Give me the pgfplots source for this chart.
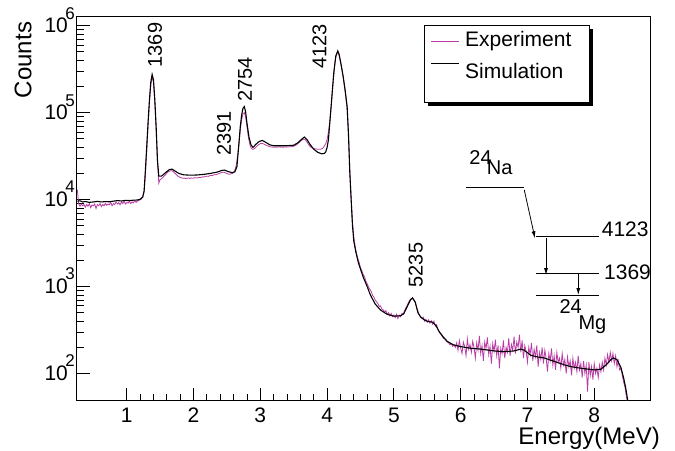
\documentclass[border=0pt]{standalone}
\usepackage{pgfplots}
\pgfplotsset{compat=1.18}
\usetikzlibrary{arrows.meta}
\usepackage{fontspec}
\setmainfont{Liberation Sans}

\definecolor{expcol}{RGB}{185,60,165}
\newcommand{\fs}[1]{\fontsize{#1bp}{#1bp}\selectfont}
\newcommand{\tenpow}[1]{10\kern-0.12em\smash{\raisebox{0.66em}{\fs{17}#1}}}

% measured spectrum, 20 keV bins
\pgfplotstableread{
E C
0.26 13000
0.28 9000
0.30 8400
0.32 8900
0.34 8500
0.36 8800
0.38 8200
0.40 8800
0.42 8400
0.44 9000
0.46 8100
0.48 8700
0.50 8500
0.52 8900
0.54 7900
0.56 8800
0.58 8500
0.60 9000
0.62 8300
0.64 8800
0.66 8500
0.68 9100
0.70 8600
0.72 8900
0.74 8700
0.76 9300
0.78 8500
0.80 9000
0.82 8800
0.84 9400
0.86 8900
0.88 9200
0.90 8700
0.92 9400
0.94 9000
0.96 9600
0.98 8900
1.00 9300
1.02 9100
1.04 9600
1.06 9000
1.08 9400
1.10 9200
1.12 9700
1.14 9300
1.16 9600
1.18 9800
1.20 9900
1.22 10200
1.24 11000
1.26 12300
1.28 20000
1.30 38000
1.32 74000
1.34 132000
1.36 210000
1.38 257000
1.40 226000
1.42 135000
1.44 66000
1.46 27000
1.48 15500
1.50 17000
1.52 17400
1.54 17900
1.56 18700
1.58 19300
1.60 20200
1.62 20900
1.64 21300
1.66 21500
1.68 21400
1.70 20900
1.72 20200
1.74 19500
1.76 18800
1.78 18400
1.80 18000
1.82 17800
1.84 17600
1.86 17700
1.88 17500
1.90 17600
1.92 17700
1.94 17500
1.96 17800
1.98 17600
2.00 17700
2.02 17900
2.04 17700
2.06 17800
2.08 18000
2.10 17900
2.12 18100
2.14 18300
2.16 18200
2.18 18500
2.20 18600
2.22 18500
2.24 18800
2.26 19000
2.28 18900
2.30 19200
2.32 19400
2.34 19300
2.36 19700
2.38 19900
2.40 20200
2.42 20500
2.44 20700
2.46 20600
2.48 20300
2.50 20000
2.52 19700
2.54 19600
2.56 19800
2.58 20000
2.60 20600
2.62 21900
2.64 25000
2.66 32000
2.68 44000
2.70 63000
2.72 83000
2.74 97000
2.76 100000
2.78 90000
2.80 69000
2.82 53000
2.84 44000
2.86 39500
2.88 38000
2.90 38000
2.92 39200
2.94 40500
2.96 42000
2.98 43200
3.00 44000
3.02 44300
3.04 44000
3.06 43300
3.08 42500
3.10 41800
3.12 41200
3.14 40700
3.16 40400
3.18 40200
3.20 40100
3.22 40300
3.24 40000
3.26 40200
3.28 40400
3.30 40100
3.32 40300
3.34 40000
3.36 40300
3.38 40200
3.40 40400
3.42 40300
3.44 40600
3.46 40500
3.48 40800
3.50 41200
3.52 41800
3.54 42700
3.56 43800
3.58 45200
3.60 46800
3.62 48300
3.64 49300
3.66 49500
3.68 48200
3.70 45800
3.72 43300
3.74 41300
3.76 40000
3.78 39200
3.80 38700
3.82 38400
3.84 38200
3.86 38000
3.88 37900
3.90 38000
3.92 38400
3.94 39400
3.96 41500
3.98 44000
4.00 49000
4.02 60000
4.04 79000
4.06 115000
4.08 178000
4.10 275000
4.12 390000
4.14 470000
4.16 500000
4.18 455000
4.20 390000
4.22 320000
4.24 255000
4.26 200000
4.28 150000
4.30 110000
4.32 58000
4.34 22000
4.36 10500
4.38 5600
4.40 3700
4.42 2900
4.44 2400
4.46 2100
4.48 1900
4.50 1650
4.52 1520
4.54 1380
4.56 1300
4.58 1150
4.60 1080
4.62 990
4.64 930
4.66 880
4.68 790
4.70 760
4.72 700
4.74 670
4.76 640
4.78 590
4.80 600
4.82 550
4.84 540
4.86 510
4.88 530
4.90 480
4.92 500
4.94 460
4.96 490
4.98 450
5.00 470
5.02 440
5.04 480
5.06 430
5.08 470
5.10 450
5.12 490
5.14 480
5.16 530
5.18 570
5.20 610
5.22 660
5.24 700
5.26 720
5.28 730
5.30 700
5.32 660
5.34 580
5.36 520
5.38 470
5.40 450
5.42 430
5.44 445
5.46 400
5.48 420
5.50 390
5.52 415
5.54 380
5.56 405
5.58 370
5.60 400
5.62 350
5.64 365
5.66 320
5.68 300
5.70 285
5.72 270
5.74 255
5.76 250
5.78 240
5.80 230
5.82 225
5.84 215
5.86 220
5.88 205
5.90 215
5.92 200
5.94 225
5.96 185
5.98 240
6.00 195
6.02 170
6.04 230
6.06 205
6.08 160
6.10 250
6.12 190
6.14 215
6.16 175
6.18 235
6.20 200
6.22 150
6.24 225
6.26 185
6.28 270
6.30 170
6.32 210
6.34 140
6.36 230
6.38 195
6.40 260
6.42 165
6.44 205
6.46 130
6.48 220
6.50 180
6.52 245
6.54 160
6.56 210
6.58 115
6.60 195
6.62 170
6.64 240
6.66 150
6.68 200
6.70 175
6.72 255
6.74 160
6.76 215
6.78 185
6.80 265
6.82 170
6.84 230
6.86 200
6.88 280
6.90 175
6.92 240
6.94 150
6.96 210
6.98 180
7.00 135
7.02 200
7.04 165
7.06 225
7.08 140
7.10 190
7.12 155
7.14 210
7.16 120
7.18 175
7.20 145
7.22 200
7.24 130
7.26 185
7.28 150
7.30 105
7.32 170
7.34 140
7.36 195
7.38 125
7.40 160
7.42 110
7.44 175
7.46 135
7.48 150
7.50 115
7.52 170
7.54 125
7.56 145
7.58 100
7.60 155
7.62 120
7.64 140
7.66 95
7.68 150
7.70 115
7.72 135
7.74 105
7.76 160
7.78 110
7.80 130
7.82 90
7.84 140
7.86 100
7.88 125
7.90 62
7.92 135
7.94 95
7.96 120
7.98 85
8.00 130
8.02 100
8.04 115
8.06 90
8.08 125
8.10 105
8.12 135
8.14 110
8.16 150
8.18 125
8.20 165
8.22 135
8.24 175
8.26 140
8.28 170
8.30 130
8.32 160
8.34 120
8.36 140
8.38 110
8.40 115
8.42 95
8.44 80
8.46 70
8.48 55
8.50 46
8.52 40
8.54 30
}\expdata

% simulated spectrum
\pgfplotstableread{
E C
0.26 9600
0.30 9700
0.34 9400
0.38 9500
0.44 9300
0.50 9400
0.56 9550
0.62 9400
0.68 9500
0.74 9450
0.80 9600
0.86 9750
0.92 9650
0.98 9800
1.04 9750
1.10 9850
1.16 9900
1.20 10100
1.24 10700
1.26 12600
1.28 22400
1.30 41700
1.32 79400
1.34 141000
1.36 224000
1.38 275000
1.40 240000
1.42 141000
1.44 69200
1.46 28200
1.48 18600
1.52 18600
1.58 20400
1.64 22200
1.68 22400
1.72 21400
1.78 20000
1.85 19300
1.95 19100
2.05 19200
2.15 19500
2.25 20000
2.35 20700
2.42 21600
2.46 21900
2.52 21000
2.58 20400
2.62 20900
2.65 24000
2.68 44700
2.70 69200
2.72 93300
2.74 112000
2.76 117500
2.78 102000
2.80 75900
2.83 52500
2.86 42700
2.89 39800
2.93 43000
2.98 46500
3.03 47900
3.08 45700
3.14 42700
3.20 41700
3.30 41700
3.40 41700
3.50 42200
3.56 45000
3.62 49500
3.66 52500
3.70 49000
3.74 43600
3.80 38000
3.86 35000
3.92 33600
3.96 34000
3.98 35500
4.00 39800
4.02 49000
4.04 75900
4.06 117500
4.08 186000
4.10 288000
4.13 447000
4.16 513000
4.18 468000
4.21 355000
4.24 263000
4.27 182000
4.30 117500
4.32 56200
4.34 20400
4.36 10000
4.38 5010
4.40 3310
4.43 2510
4.47 1860
4.54 1290
4.60 1000
4.65 794
4.72 631
4.80 537
4.90 479
5.00 457
5.10 462
5.15 490
5.20 589
5.25 708
5.28 741
5.32 661
5.36 501
5.40 447
5.45 417
5.50 398
5.58 389
5.63 355
5.68 302
5.74 263
5.80 234
5.89 214
6.00 204
6.15 195
6.30 191
6.50 182
6.64 178
6.80 182
6.90 191
6.95 186
7.05 162
7.15 155
7.25 151
7.40 138
7.55 126
7.65 120
7.80 115
8.00 110
8.10 112
8.18 126
8.25 145
8.29 151
8.34 145
8.40 117
8.44 89
8.47 69
8.50 50
8.52 42
}\simdata

\begin{document}
\begin{tikzpicture}
\useasboundingbox (-77bp,-50bp) rectangle (598bp,401bp);
\begin{axis}[
  at={(0,0)}, anchor=south west,
  scale only axis, width=573bp, height=384bp,
  xmin=0.255, xmax=8.835, ymin=48.3, ymax=1.26e6,
  ymode=log,
  clip mode=individual,
  axis line style={line width=1bp},
  xtick={1,2,3,4,5,6,7,8},
  xticklabels={1,2,3,4,5,6,7,8},
  minor x tick num=4,
  ytick={100,1000,10000,100000,1000000},
  yticklabels={\tenpow{2},\tenpow{3},\tenpow{4},\tenpow{5},\tenpow{6}},
  xtick pos=bottom, ytick pos=left,
  tick align=inside,
  major tick length=13bp, minor tick length=7bp,
  tick style={line width=0.8bp, black},
  /pgf/number format/assume math mode=true,
  tick label style={font=\fs{21}},
  xticklabel style={inner sep=0pt, yshift=-7bp},
  yticklabel style={inner sep=0pt, xshift=-2bp},
]
\addplot[expcol, line width=0.8bp] table[x=E, y=C] {\expdata};
\addplot[black, line width=1.1bp] table[x=E, y=C] {\simdata};

% peak labels
\node[rotate=90, font=\fs{20}] at (rel axis cs:0.136,0.927) {1369};
\node[rotate=90, font=\fs{20}] at (rel axis cs:0.2565,0.697) {2391};
\node[rotate=90, font=\fs{20}] at (rel axis cs:0.2932,0.838) {2754};
\node[rotate=90, font=\fs{20}] at (rel axis cs:0.4232,0.9227) {4123};
\node[rotate=90, font=\fs{20}] at (rel axis cs:0.591,0.354) {5235};

% axis titles
\node[rotate=90, font=\fs{24}] at (rel axis cs:-0.0942,0.888) {Counts};
\node[anchor=base east, inner sep=0pt, font=\fs{24}] at (rel axis cs:1.0175,-0.112) {Energy(MeV)};

% legend
\fill[black] (rel axis cs:0.613,0.769) rectangle (rel axis cs:0.901,0.969);
\filldraw[fill=white, draw=black, line width=0.8bp] (rel axis cs:0.606,0.7768) rectangle (rel axis cs:0.894,0.977);
\draw[expcol, line width=0.8bp] (rel axis cs:0.6178,0.9357) -- (rel axis cs:0.6672,0.9357);
\draw[black, line width=0.8bp] (rel axis cs:0.6178,0.8802) -- (rel axis cs:0.6672,0.8802);
\node[anchor=base west, inner sep=0pt, font=\fs{21}] at (rel axis cs:0.6771,0.9227) {Experiment};
\node[anchor=base west, inner sep=0pt, font=\fs{21}] at (rel axis cs:0.6771,0.8404) {Simulation};

% decay scheme of 24Na
\draw[line width=0.8bp] (rel axis cs:0.679,0.5555) -- (rel axis cs:0.780,0.5555);
\draw[line width=0.8bp] (rel axis cs:0.801,0.4289) -- (rel axis cs:0.9115,0.4289);
\draw[line width=0.8bp] (rel axis cs:0.801,0.3315) -- (rel axis cs:0.9115,0.3315);
\draw[line width=0.8bp] (rel axis cs:0.801,0.276) -- (rel axis cs:0.9115,0.276);
\draw[line width=0.8bp, -{Latex[length=7bp,width=4bp]}] (rel axis cs:0.7806,0.5495) -- (rel axis cs:0.7993,0.4237);
\draw[line width=0.8bp, -{Latex[length=7bp,width=4bp]}] (rel axis cs:0.8185,0.4237) -- (rel axis cs:0.8185,0.328);
\draw[line width=0.8bp, -{Latex[length=7bp,width=4bp]}] (rel axis cs:0.8749,0.3299) -- (rel axis cs:0.8749,0.276);
\node[anchor=base west, inner sep=0pt, font=\fs{21}] at (rel axis cs:0.9157,0.4279) {4123};
\node[anchor=base west, inner sep=0pt, font=\fs{21}] at (rel axis cs:0.9197,0.3169) {1369};
\node[anchor=base west, inner sep=0pt, font=\fs{20}] at (rel axis cs:0.6846,0.6146) {24};
\node[anchor=base west, inner sep=0pt, font=\fs{20}] at (rel axis cs:0.715,0.5903) {Na};
\node[anchor=base west, inner sep=0pt, font=\fs{20}] at (rel axis cs:0.8417,0.2266) {24};
\node[anchor=base west, inner sep=0pt, font=\fs{20}] at (rel axis cs:0.8749,0.1867) {Mg};
\end{axis}
\end{tikzpicture}
\end{document}
